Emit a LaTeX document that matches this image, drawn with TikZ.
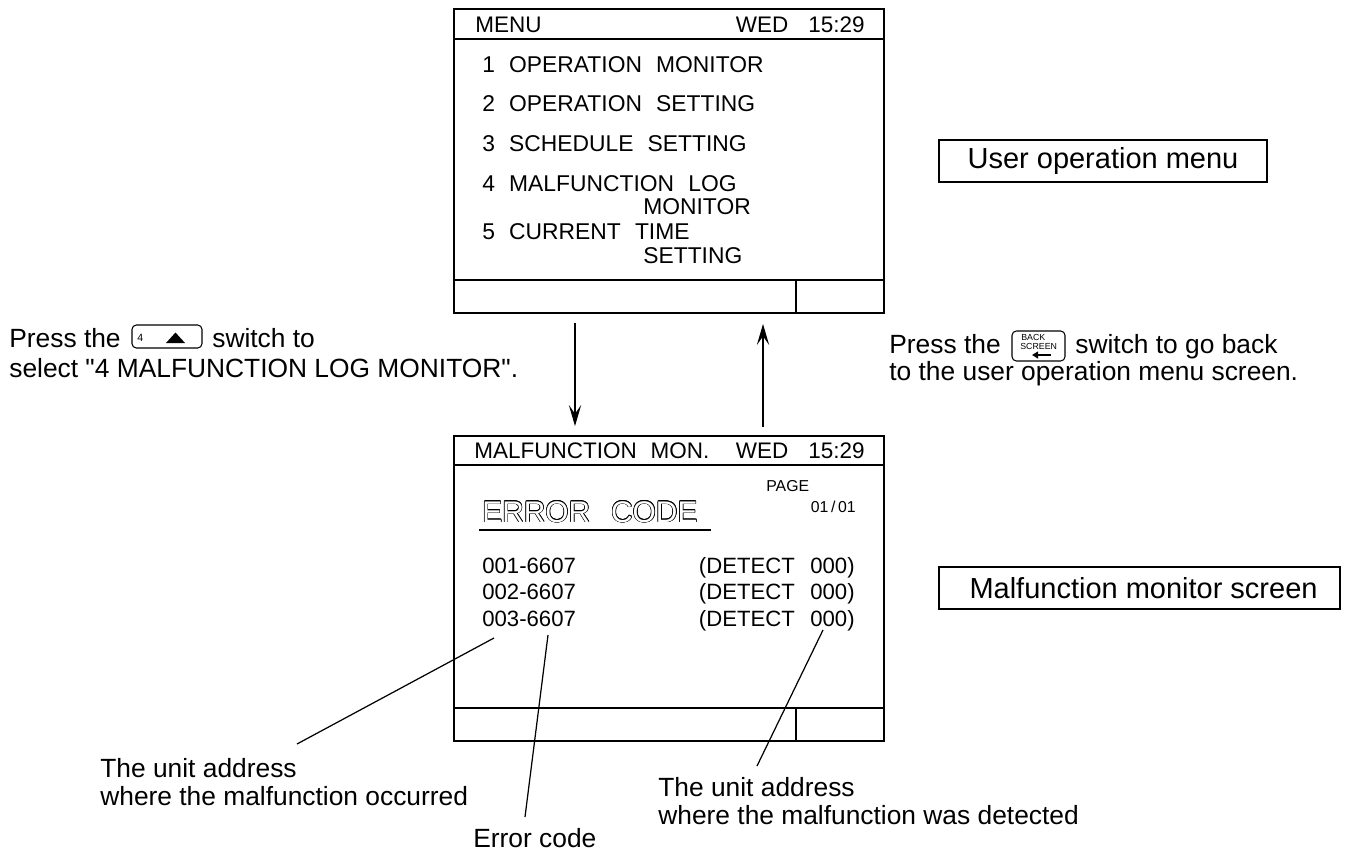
\documentclass[tikz,border=0pt]{standalone}
\usepackage{fontspec}
\setmainfont{Liberation Sans}
\usetikzlibrary{arrows.meta,positioning}

\newcommand{\lcdfont}{\fontsize{13}{14}\selectfont\spaceskip=0.62em\relax}
\newcommand{\lcdheadfont}{\fontsize{12.8}{14}\selectfont\spaceskip=0.62em\relax}
\newcommand{\lcdrowfont}{\fontsize{12.6}{14}\selectfont\spaceskip=0.7em\relax}

\tikzset{
  screen/.style={draw,rectangle,line width=1.1pt,inner sep=0pt},
  bar/.style={line width=1.1pt},
  divider/.style={line width=0.7pt},
  lcd/.style={anchor=base west,inner sep=0pt,font=\lcdfont},
  lcdhead/.style={lcd,font=\lcdheadfont},
  lcdrow/.style={lcd,font=\lcdrowfont},
  lcdsmall/.style={lcd,font={\fontsize{9}{10}\selectfont}},
  note/.style={anchor=base west,inner sep=0pt,align=left,font={\fontsize{15}{15.5}\selectfont}},
  tagbox/.style={draw,rectangle,line width=0.7pt,minimum height=0.84cm,inner sep=0pt,font={\fontsize{16.5}{17}\selectfont}},
  keybox/.style={draw,rectangle,rounded corners=2.5pt,line width=0.6pt,inner sep=0pt},
  keytext/.style={anchor=base west,inner sep=0pt,font={\fontsize{5}{5}\selectfont}},
  flow/.style={line width=0.7pt,-{Stealth[length=12pt,width=7pt,inset=5pt]}},
  leader/.style={line width=0.7pt}
}

\begin{document}
\begin{tikzpicture}[x=0.02cm,y=-0.02cm]
\useasboundingbox (0,0) rectangle (1348,852);

% user operation menu screen
\node[screen,minimum width=8.6cm,minimum height=6.08cm] (menu) at (669,161) {};
\draw[bar] ([shift={(0,31)}]menu.north west) -- ([shift={(0,31)}]menu.north east);
\draw[bar] ([shift={(0,-34)}]menu.south west) -- ([shift={(0,-34)}]menu.south east);
\draw[divider] ([shift={(343,0)}]menu.south west) -- ([shift={(343,-34)}]menu.south west);

\node[lcdhead] (mtitle) at (475,32) {MENU};
\node[lcdhead,anchor=base east] (mtime) at (865,32) {WED\hspace{0.4cm}15:29};
\node[lcd] (item1) at (482,72) {1 OPERATION MONITOR};
\node[lcd] (item2) at (482,111) {2 OPERATION SETTING};
\node[lcd] (item3) at (482,151) {3 SCHEDULE SETTING};
\node[lcd] (item4) at (482,191) {4 MALFUNCTION LOG};
\node[lcd] (item4b) at (643,214) {MONITOR};
\node[lcd] (item5) at (482,239) {5 CURRENT TIME};
\node[lcd] (item5b) at (643,263) {SETTING};

% malfunction monitor screen
\node[screen,minimum width=8.6cm,minimum height=6.1cm] (mal) at (669,588.5) {};
\draw[bar] ([shift={(0,30)}]mal.north west) -- ([shift={(0,30)}]mal.north east);
\draw[bar] ([shift={(0,-34)}]mal.south west) -- ([shift={(0,-34)}]mal.south east);
\draw[divider] ([shift={(343,0)}]mal.south west) -- ([shift={(343,-34)}]mal.south west);

\node[lcdhead] (ftitle) at (474,458) {MALFUNCTION MON.};
\node[lcdhead,anchor=base east] (ftime) at (865,458) {WED\hspace{0.4cm}15:29};
\node[lcdsmall] (page) at (766,491) {PAGE};
\node[lcdsmall,anchor=base east] (pageno) at (856,512) {01\kern1.5pt/\kern1.5pt01};

% outlined heading
\coordinate (ec) at (482,522);
\foreach \a in {0,30,...,330}
  \node[lcd,font={\fontsize{17}{18}\selectfont}] at ([shift={(\a:0.35pt)}]ec) {ERROR\hspace{0.42cm}CODE};
\node[lcd,font={\fontsize{17}{18}\selectfont},text=white] (errhead) at (ec) {ERROR\hspace{0.42cm}CODE};
\draw[line width=1.2pt] ([shift={(-3,8)}]ec) -- ([shift={(229,8)}]ec);

\node[lcdrow] (row1) at (482,573) {001-6607};
\node[lcdrow] (row2) at (482,599) {002-6607};
\node[lcdrow] (row3) at (482,626) {003-6607};
\node[lcdrow,anchor=base east] (det1) at (855,573) {(DETECT 000)};
\node[lcdrow,anchor=base east] (det2) at (855,599) {(DETECT 000)};
\node[lcdrow,anchor=base east] (det3) at (855,626) {(DETECT 000)};

% screen changes
\draw[flow] ([shift={(-94,9)}]menu.south) -- ([shift={(-94,-9)}]mal.north);
\draw[flow] ([shift={(94,-8)}]mal.north) -- ([shift={(94,10)}]menu.south);

% screen names
\node[tagbox,minimum width=6.56cm] (usertag) at (1103,161) {User operation menu};
\node[tagbox,minimum width=8.02cm] (maltag) at (1139.5,588) {\ Malfunction monitor screen};

% left instruction
\node[note] (lpress) at (9,347) {Press the};
\node[keybox,minimum width=1.4cm,minimum height=0.46cm] (key4) at (167,336.5) {};
\node[keytext,font={\fontsize{6}{6}\selectfont}] (key4num) at (137,341) {4};
\fill ([shift={(-1,6.5)}]key4.center) -- ([shift={(18,6.5)}]key4.center) -- ([shift={(8.5,-4)}]key4.center) -- cycle;
\node[note] (lswitch) at (212,347) {switch to};
\node[note] (lselect) at (9,377) {select \textquotedbl 4 MALFUNCTION LOG MONITOR\textquotedbl.};

% right instruction
\node[note] (rpress) at (889,353) {Press the};
\node[keybox,minimum width=1.06cm,minimum height=0.6cm] (backkey) at (1038.5,346) {};
\node[keytext] (backtxt) at (1021,340.5) {BACK};
\node[keytext] (scrtxt) at (1020,349.5) {SCREEN};
\draw[line width=1.3pt,-{Triangle[length=3.5pt,width=4pt]}] (1051,355) -- (1032,355);
\node[note] (rswitch) at (1075,353) {switch to go back};
\node[note] (rback) at (889,380) {to the user operation menu screen.};

% leaders
\node[note] (occlbl) at (100,805) {The unit address\\where the malfunction occurred};
\node[note] (eclbl) at (473,847) {Error code};
\node[note] (detlbl) at (658,824) {The unit address\\where the malfunction was detected};
\coordinate (occa) at (494,638);
\coordinate (occb) at (297,744);
\coordinate (eca) at (548,635);
\coordinate (ecb) at (525,817);
\coordinate (deta) at (823,630);
\coordinate (detb) at (757,766);
\draw[leader] (occa) -- (occb);
\draw[leader] (eca) -- (ecb);
\draw[leader] (deta) -- (detb);
\end{tikzpicture}
\end{document}
